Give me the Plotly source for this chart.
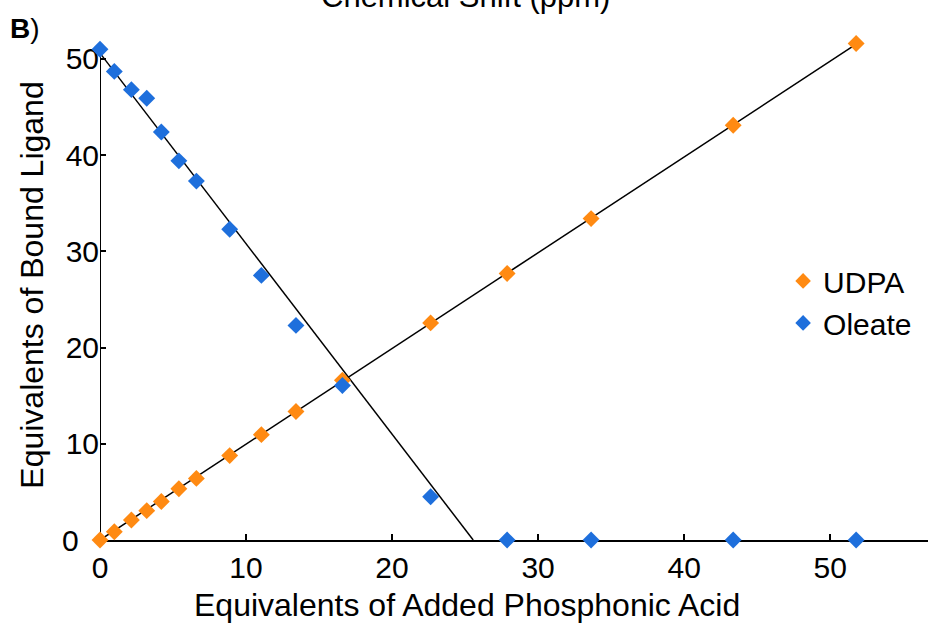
import plotly.graph_objects as go

# Titration data: equivalents of phosphonic acid added vs. bound ligand
eq_added = [0, 0.98, 2.15, 3.2, 4.2, 5.4, 6.6, 8.88, 11.05, 13.42, 16.6, 22.64, 27.88, 33.63, 43.36, 51.78]
udpa_bound = [0, 0.86, 2.08, 3.05, 4.0, 5.33, 6.4, 8.77, 10.95, 13.35, 16.6, 22.56, 27.7, 33.4, 43.1, 51.6]
oleate_bound = [51.0, 48.7, 46.8, 45.9, 42.4, 39.4, 37.3, 32.3, 27.5, 22.3, 16.06, 4.5, 0, 0, 0, 0]

# Linear trend lines (slope, intercept)
udpa_fit = (0.995, 0.0)
oleate_fit = (-1.98, 50.6)

x_ticks = [0, 10, 20, 30, 40, 50]
y_ticks = [0, 10, 20, 30, 40, 50]
# the zero label of the vertical axis is set a little further left, as its own text
y_ticktext = ["" if v == 0 else str(v) for v in y_ticks]
y_axis_top = 50.3

ORANGE = "#FF8A12"
BLUE = "#1E6FDC"
FONT = "Liberation Sans, Arial, sans-serif"

fig = go.Figure()

# UDPA trend line: from origin to the last titration point
u_x = [0, eq_added[-1]]
u_y = [udpa_fit[0] * x + udpa_fit[1] for x in u_x]
fig.add_trace(go.Scatter(x=u_x, y=u_y, mode="lines", line=dict(color="black", width=1.5),
                         showlegend=False, hoverinfo="skip", cliponaxis=False))

# Oleate trend line: from x=0 down to its x-intercept
o_x0 = -oleate_fit[1] / oleate_fit[0]
o_x = [0, o_x0]
o_y = [oleate_fit[0] * x + oleate_fit[1] for x in o_x]
fig.add_trace(go.Scatter(x=o_x, y=o_y, mode="lines", line=dict(color="black", width=1.5),
                         showlegend=False, hoverinfo="skip", cliponaxis=False))

fig.add_trace(go.Scatter(x=eq_added, y=udpa_bound, mode="markers", name="UDPA",
                         marker=dict(symbol="diamond", size=13, color=ORANGE, line=dict(width=0)),
                         cliponaxis=False))
fig.add_trace(go.Scatter(x=eq_added, y=oleate_bound, mode="markers", name="Oleate",
                         marker=dict(symbol="diamond", size=13, color=BLUE, line=dict(width=0)),
                         cliponaxis=False))

# Vertical axis line stops at the top tick
fig.add_shape(type="line", xref="x", yref="y", x0=0, x1=0, y0=0, y1=y_axis_top,
              line=dict(color="black", width=2), layer="below")

fig.update_layout(
    width=928, height=623,
    margin=dict(l=100, r=0, t=30, b=83),
    paper_bgcolor="white", plot_bgcolor="white",
    font=dict(family=FONT, size=30, color="black"),
    showlegend=True,
    legend=dict(x=0.825, y=0.559, xanchor="left", yanchor="top",
                bgcolor="rgba(0,0,0,0)", font=dict(size=30), itemsizing="constant",
                tracegroupgap=0),
    xaxis=dict(range=[0, 56.7], tickvals=x_ticks, ticks="inside", ticklen=6, tickwidth=1.5,
               tickcolor="black", showline=True, linecolor="black", linewidth=2,
               showgrid=False, zeroline=False, layer="below traces"),
    yaxis=dict(range=[0, 53], tickvals=y_ticks, ticktext=y_ticktext, ticks="inside",
               ticklen=6, tickwidth=1.5, tickcolor="black", showline=False,
               showgrid=False, zeroline=False, layer="below traces",
               title=dict(text="Equivalents of Bound Ligand", standoff=12,
                          font=dict(size=32))),
)

fig.add_annotation(text=str(y_ticks[0]), xref="x", yref="y", x=0, y=y_ticks[0],
                   xanchor="right", yanchor="middle", xshift=-19, showarrow=False,
                   font=dict(size=30, family=FONT))

# Horizontal axis caption
fig.add_annotation(text="Equivalents of Added Phosphonic Acid", xref="paper", yref="paper",
                   x=(467 - 100) / 828, y=-0.127, showarrow=False,
                   font=dict(size=32, family=FONT), xanchor="center", yanchor="middle")

# Panel label and the axis caption of the panel above
fig.add_annotation(text="<b>B</b>)", xref="paper", yref="paper", x=-0.091, y=1.003,
                   showarrow=False, font=dict(size=28, family=FONT),
                   xanchor="center", yanchor="middle")
fig.add_annotation(text="Chemical Shift (ppm)", xref="paper", yref="paper", x=0.442, y=1.065,
                   showarrow=False, font=dict(size=31, family=FONT),
                   xanchor="center", yanchor="middle")

fig.write_html("out.html")
